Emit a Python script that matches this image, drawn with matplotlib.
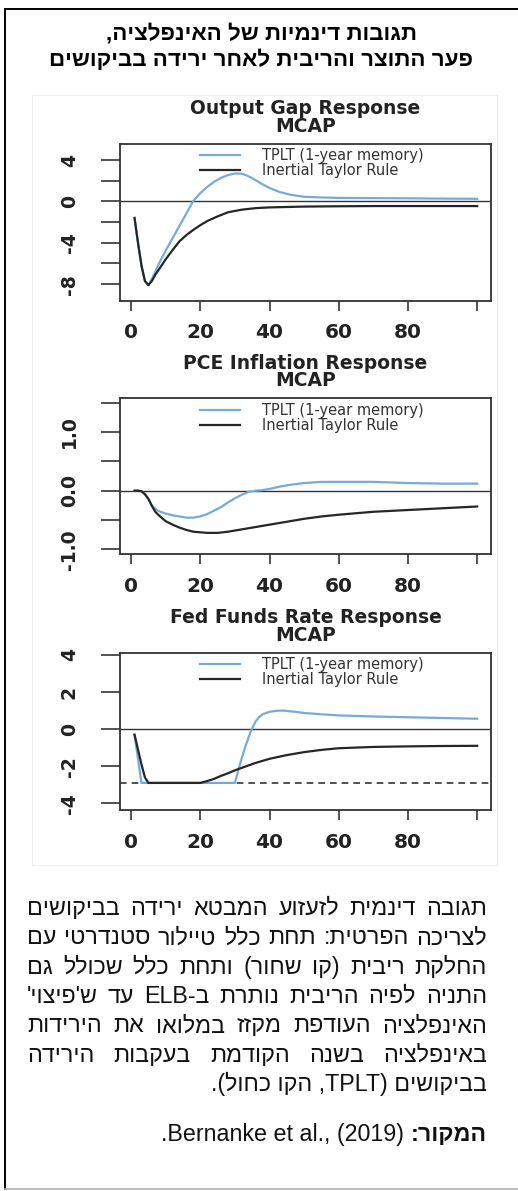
import re
import matplotlib
matplotlib.use('Agg')
import matplotlib.pyplot as plt
from matplotlib.lines import Line2D
from matplotlib.patches import Rectangle
from matplotlib.font_manager import FontProperties

W, H, DPI = 518, 1191, 100

# ---------------- data ----------------
x_ticks = [0, 20, 40, 60, 80, 100]
x_tick_labels = ['0', '20', '40', '60', '80', '']

legend_labels = ['TPLT (1-year memory)', 'Inertial Taylor Rule']

# Output gap response
gap_x_tplt = [1, 2, 3, 4, 5, 6, 7, 8, 10, 12, 14, 16, 18, 20, 22, 24, 26, 28, 30, 32, 34, 36, 38, 40,
              43, 46, 50, 55, 60, 70, 80, 90, 100]
gap_y_tplt = [-1.6, -4.0, -6.2, -7.7, -8.1, -7.5, -6.8, -6.05, -4.75, -3.55, -2.35, -1.15, 0.05, 0.8,
              1.4, 1.9, 2.28, 2.55, 2.7, 2.68, 2.42, 2.05, 1.65, 1.3, 0.9, 0.65, 0.45, 0.38, 0.34,
              0.32, 0.3, 0.27, 0.25]
gap_x_itr = [1, 2, 3, 4, 5, 6, 7, 8, 10, 12, 14, 16, 18, 20, 22, 25, 28, 32, 36, 40, 45, 50, 60, 70,
             80, 90, 100]
gap_y_itr = [-1.6, -4.0, -6.2, -7.7, -8.1, -7.7, -7.1, -6.6, -5.6, -4.7, -3.85, -3.25, -2.75, -2.3,
             -1.9, -1.45, -1.05, -0.8, -0.65, -0.58, -0.54, -0.5, -0.47, -0.45, -0.45, -0.45, -0.45]

# PCE inflation response
pce_x_tplt = [1, 2, 3, 4, 5, 6, 7, 8, 10, 12, 14, 16, 18, 20, 22, 24, 26, 28, 30, 32, 34, 36, 38, 40,
              43, 46, 50, 55, 60, 70, 80, 90, 100]
pce_y_tplt = [0.0, 0.0, -0.01, -0.06, -0.14, -0.25, -0.31, -0.35, -0.39, -0.42, -0.44, -0.46, -0.46,
              -0.44, -0.4, -0.34, -0.28, -0.2, -0.13, -0.07, -0.02, 0.0, 0.01, 0.03, 0.07, 0.1, 0.13,
              0.15, 0.15, 0.15, 0.13, 0.12, 0.12]
pce_x_itr = [1, 2, 3, 4, 5, 6, 7, 8, 10, 12, 14, 16, 18, 20, 22, 25, 28, 30, 35, 40, 45, 50, 55, 60,
             70, 80, 90, 100]
pce_y_itr = [0.0, 0.0, -0.01, -0.06, -0.14, -0.26, -0.36, -0.42, -0.52, -0.58, -0.63, -0.67, -0.7,
             -0.71, -0.72, -0.72, -0.7, -0.68, -0.63, -0.58, -0.53, -0.48, -0.44, -0.41, -0.36, -0.33,
             -0.3, -0.27]

# Fed funds rate response
ffr_x_tplt = [1, 2, 3, 10, 20, 30, 31, 32, 33, 34, 35, 36, 37, 38, 40, 42, 44, 46, 48, 50, 55, 60, 70,
              80, 90, 100]
ffr_y_tplt = [-0.3, -1.6, -2.9, -2.9, -2.9, -2.9, -2.2, -1.55, -0.95, -0.42, 0.05, 0.42, 0.65, 0.8,
              0.93, 0.99, 1.0, 0.96, 0.92, 0.87, 0.8, 0.74, 0.68, 0.64, 0.6, 0.56]
ffr_x_itr = [1, 2, 3, 4, 5, 10, 20, 22, 24, 26, 28, 30, 33, 36, 40, 45, 50, 55, 60, 70, 80, 90, 100]
ffr_y_itr = [-0.3, -1.1, -1.9, -2.6, -2.9, -2.9, -2.9, -2.8, -2.68, -2.52, -2.38, -2.22, -2.02, -1.82,
             -1.6, -1.4, -1.24, -1.12, -1.03, -0.96, -0.93, -0.91, -0.9]
ffr_elb = -2.9

title_lines = ['תגובות דינמיות של האינפלציה,',
               'פער התוצר והריבית לאחר ירידה בביקושים']
body_lines = ['תגובה דינמית לזעזוע המבטא ירידה בביקושים',
              'לצריכה הפרטית: תחת כלל טיילור סטנדרטי עם',
              'החלקת ריבית (קו שחור) ותחת כלל שכולל גם',
              "התניה לפיה הריבית נותרת ב-ELB עד ש'פיצוי'",
              'האינפלציה העודפת מקזז במלואו את הירידות',
              'באינפלציה בשנה הקודמת בעקבות הירידה',
              'בביקושים (TPLT, הקו כחול).']
source_bold = 'המקור:'
source_rest = 'Bernanke et al., (2019).'

# ---------------- helpers ----------------
LTR_RE = re.compile(r"[A-Za-z0-9][A-Za-z0-9 .,()]*[A-Za-z0-9)]|[A-Za-z0-9]")
MIRROR = str.maketrans({'(': ')', ')': '('})


def visual(s):
    """Logical RTL string -> visual left-to-right order (simple bidi)."""
    segs = []
    pos = 0
    for m in LTR_RE.finditer(s):
        if m.start() > pos:
            segs.append(('R', s[pos:m.start()]))
        segs.append(('L', m.group()))
        pos = m.end()
    if pos < len(s):
        segs.append(('R', s[pos:]))
    out = []
    for kind, seg in reversed(segs):
        if kind == 'R':
            out.append(seg[::-1].translate(MIRROR))
        else:
            out.append(seg)
    return ''.join(out)


def fx(px):
    return px / W


def fy(py):
    return 1 - py / H


fig = plt.figure(figsize=(W / DPI, H / DPI), dpi=DPI)
fig.patch.set_facecolor('white')
renderer = fig.canvas.get_renderer()


def text_width(s, fp):
    tt = fig.text(0, 0, s, fontproperties=fp)
    wd = tt.get_window_extent(renderer).width
    tt.remove()
    return wd


HEB = ['Liberation Sans', 'DejaVu Sans']
CHART_FONT = 'DejaVu Sans'
BLUE = '#78aad9'
BLACK = '#262626'
AXC = '#333333'

# ---------------- frame ----------------
fig.add_artist(Line2D([fx(5), fx(5)], [fy(9), fy(1189)], transform=fig.transFigure,
                      color='black', lw=1.4))
fig.add_artist(Line2D([fx(5), 1.0], [fy(9), fy(9)], transform=fig.transFigure,
                      color='black', lw=1.4))
fig.add_artist(Line2D([fx(5), 1.0], [fy(1189), fy(1189)], transform=fig.transFigure,
                      color='#b0b0b0', lw=1.2))
fig.add_artist(Rectangle((fx(32), fy(865)), fx(497) - fx(32), (865 - 95) / H,
                         transform=fig.transFigure, fill=False, edgecolor='#eeeeee', lw=0.8))

# ---------------- title ----------------
fp_title = FontProperties(family=HEB, weight='bold', size=13)
wt = text_width(visual(title_lines[1]), fp_title)
fp_title.set_size(13 * 421 / wt)
for line, yb in zip(title_lines, [39.5, 66.5]):
    fig.text(fx(261), fy(yb), visual(line), fontproperties=fp_title, ha='center', va='baseline')

# ---------------- panels ----------------
panels = [
    dict(box=(120, 144, 491, 300.7), ylim=(-9.6, 5.55),
         yticks=[-8, -6, -4, -2, 0, 2, 4], ylabels=['-8', '', '-4', '', '0', '', '4'],
         title=('Output Gap Response', 'MCAP'),
         series=[(gap_x_tplt, gap_y_tplt), (gap_x_itr, gap_y_itr)], elb=None),
    dict(box=(120, 398.3, 491, 554), ylim=(-1.08, 1.575),
         yticks=[-1.0, -0.5, 0.0, 0.5, 1.0, 1.5], ylabels=['-1.0', '', '0.0', '', '1.0', ''],
         title=('PCE Inflation Response', 'MCAP'),
         series=[(pce_x_tplt, pce_y_tplt), (pce_x_itr, pce_y_itr)], elb=None),
    dict(box=(120, 652.7, 491, 810), ylim=(-4.36, 4.12),
         yticks=[-4, -2, 0, 2, 4], ylabels=['-4', '-2', '0', '2', '4'],
         title=('Fed Funds Rate Response', 'MCAP'),
         series=[(ffr_x_tplt, ffr_y_tplt), (ffr_x_itr, ffr_y_itr)], elb=ffr_elb),
]

for p in panels:
    l, tp, r, b = p['box']
    ax = fig.add_axes([fx(l), fy(b), (r - l) / W, (b - tp) / H])
    ax.set_xlim(-3.2, 104)
    ax.set_ylim(*p['ylim'])
    (xb, yb_), (xk, yk) = p['series']
    ln_b, = ax.plot(xb, yb_, color=BLUE, lw=1.6, solid_joinstyle='round')
    ln_k, = ax.plot(xk, yk, color=BLACK, lw=1.6, solid_joinstyle='round')
    ax.axhline(0, color=AXC, lw=1.0, zorder=1)
    if p['elb'] is not None:
        ax.axhline(p['elb'], color=AXC, lw=1.2, ls=(0, (4, 3)), zorder=1)
    ax.set_xticks(x_ticks)
    ax.set_xticklabels(x_tick_labels)
    ax.set_yticks(p['yticks'])
    ax.set_yticklabels(p['ylabels'], rotation=90, va='center')
    for sp in ax.spines.values():
        sp.set_color(AXC)
        sp.set_linewidth(1.3)
    ax.tick_params(axis='x', direction='out', length=7.2, width=1.2, pad=9, color=AXC,
                   labelsize=14.5, labelcolor='#222222')
    ax.tick_params(axis='y', direction='out', length=13.7, width=1.2, pad=16, color=AXC,
                   labelsize=13.5, labelcolor='#222222')
    for lab in ax.get_xticklabels() + ax.get_yticklabels():
        lab.set_family(CHART_FONT)
        lab.set_fontweight('bold')
    leg = ax.legend([ln_b, ln_k], legend_labels, loc='upper left',
                    bbox_to_anchor=(0.2156, 0.972), frameon=False,
                    prop=FontProperties(family=CHART_FONT, size=10.5),
                    handlelength=2.74, handletextpad=1.5, labelspacing=0.0,
                    borderpad=0, borderaxespad=0)
    for txt in leg.get_texts():
        txt.set_color('#333333')
    cx = (l + r) / 2
    fig.text(fx(cx), fy(tp - 35), p['title'][0], family=CHART_FONT, weight='bold',
             size=13.5, ha='center', va='center', color='#222222')
    fig.text(fx(cx), fy(tp - 17.5), p['title'][1], family=CHART_FONT, weight='bold',
             size=13.5, ha='center', va='center', color='#222222')

# ---------------- body text (justified RTL paragraph) ----------------
LEFT, RIGHT = 27, 487
fp_body = FontProperties(family=HEB, size=13.4)
nat = max(text_width(visual(s), fp_body) for s in body_lines[:5])
fp_body.set_size(13.4 * 452 / nat)
baselines = [915, 944.3, 973.6, 1003, 1032.3, 1061.6, 1091]

for i, (line, yb) in enumerate(zip(body_lines, baselines)):
    vis = visual(line)
    if i == len(body_lines) - 1:
        fig.text(fx(RIGHT), fy(yb), vis, fontproperties=fp_body, ha='right', va='baseline',
                 color='#111111')
        continue
    words = vis.split(' ')
    widths = [text_width(w, fp_body) for w in words]
    gap = (RIGHT - LEFT - sum(widths)) / (len(words) - 1)
    xpos = LEFT
    for w, wd in zip(words, widths):
        fig.text(fx(xpos), fy(yb), w, fontproperties=fp_body, ha='left', va='baseline',
                 color='#111111')
        xpos += wd + gap

# source line
fp_bold = FontProperties(family=HEB, size=fp_body.get_size(), weight='bold')
tb = fig.text(fx(RIGHT), fy(1141), visual(source_bold), fontproperties=fp_bold,
              ha='right', va='baseline', color='#111111')
bw = tb.get_window_extent(renderer).width
space = text_width('a a', fp_body) - text_width('aa', fp_body)
fig.text(fx(RIGHT - bw - space), fy(1141), visual(source_rest), fontproperties=fp_body,
         ha='right', va='baseline', color='#111111')

fig.savefig('out.png', dpi=DPI, facecolor='white')
